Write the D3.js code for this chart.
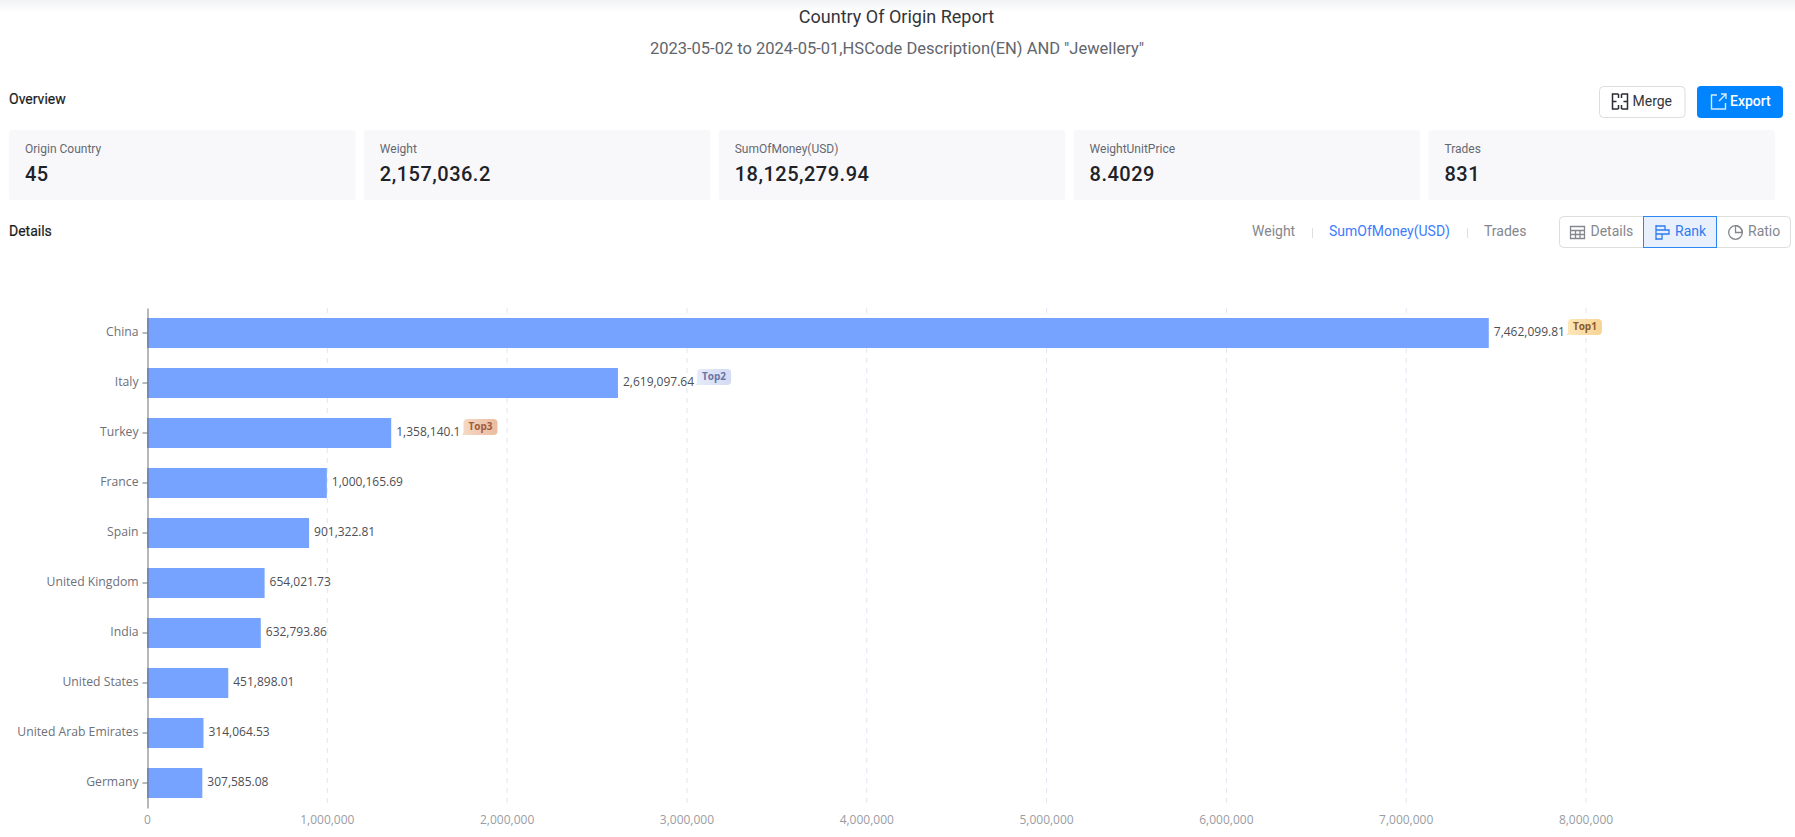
<!DOCTYPE html>
<html>
<head>
<meta charset="utf-8">
<title>Country Of Origin Report</title>
<script src="https://cdn.jsdelivr.net/npm/d3@7"></script>
<style>
  html, body { margin: 0; padding: 0; background: #fff; overflow: hidden; }
  svg { display: block; }
  text { font-family: Roboto, sans-serif; }
  .chart text { font-family: "Open Sans", "Noto Sans", sans-serif; }
</style>
</head>
<body>
<div id="page"></div>
<script>
// Overview cards
var cardLabels = ["Origin Country", "Weight", "SumOfMoney(USD)", "WeightUnitPrice", "Trades"];
var cardValues = ["45", "2,157,036.2", "18,125,279.94", "8.4029", "831"];

// Chart data
var countries = ["China", "Italy", "Turkey", "France", "Spain", "United Kingdom", "India", "United States", "United Arab Emirates", "Germany"];
var money = [7462099.81, 2619097.64, 1358140.1, 1000165.69, 901322.81, 654021.73, 632793.86, 451898.01, 314064.53, 307585.08];
var xTicks = [0, 1000000, 2000000, 3000000, 4000000, 5000000, 6000000, 7000000, 8000000];
var badgeLabels = ["Top1", "Top2", "Top3"];
var badgeFills = [["#fde6b8", "#f6d394"], ["#e6ebfa", "#d3daf2"], ["#f5d8c4", "#eabc9f"]];
var badgeInks = ["#8a5a2c", "#6a74a6", "#a25a3c"];

var width = 1795, height = 837;
var svg = d3.select("#page").append("svg").attr("width", width).attr("height", height);
var defs = svg.append("defs");

// soft shadow under the page header
var shade = defs.append("linearGradient").attr("id", "topShade").attr("x1", 0).attr("x2", 0).attr("y1", 0).attr("y2", 1);
shade.append("stop").attr("offset", 0).attr("stop-color", "#f1f2f5");
shade.append("stop").attr("offset", 1).attr("stop-color", "#ffffff");
svg.append("rect").attr("width", width).attr("height", 12).attr("fill", "url(#topShade)");

// titles
svg.append("text").attr("x", 896.5).attr("y", 17).attr("dy", "0.35em").attr("text-anchor", "middle")
  .attr("font-size", 18).attr("fill", "#33353b").text("Country Of Origin Report");
svg.append("text").attr("x", 897).attr("y", 48).attr("dy", "0.35em").attr("text-anchor", "middle")
  .attr("font-size", 16.5).attr("fill", "#62656c").text('2023-05-02 to 2024-05-01,HSCode Description(EN) AND "Jewellery"');

svg.append("text").attr("x", 9).attr("y", 99).attr("dy", "0.35em")
  .attr("font-size", 14).attr("fill", "#1a1c20").attr("stroke", "#1a1c20").attr("stroke-width", 0.2).text("Overview");
svg.append("text").attr("x", 9).attr("y", 231).attr("dy", "0.35em")
  .attr("font-size", 14).attr("fill", "#1a1c20").attr("stroke", "#1a1c20").attr("stroke-width", 0.2).text("Details");

// buttons
var merge = svg.append("g");
merge.append("rect").attr("x", 1599.5).attr("y", 86.5).attr("width", 85.5).attr("height", 31).attr("rx", 4)
  .attr("fill", "#fff").attr("stroke", "#dcdde1");
merge.append("path").attr("d", "M1618.5 94h-6v15h6M1621.5 94h6v15h-6M1612.5 101.5h4M1623.5 101.5h4M1618.5 94v4M1618.5 105v4M1621.5 94v4M1621.5 105v4")
  .attr("fill", "none").attr("stroke", "#2b2d33").attr("stroke-width", 1.5);
merge.append("text").attr("x", 1632.5).attr("y", 101.5).attr("dy", "0.35em").attr("font-size", 14).attr("fill", "#33353b").text("Merge");

var exportBtn = svg.append("g");
exportBtn.append("rect").attr("x", 1697).attr("y", 86).attr("width", 86).attr("height", 32).attr("rx", 4).attr("fill", "#0084ff");
exportBtn.append("path").attr("d", "M1717 95h-5.5v14h14v-6M1719 101l7-7M1721 94h5v5")
  .attr("fill", "none").attr("stroke", "#d6ebff").attr("stroke-width", 1.4);
exportBtn.append("text").attr("x", 1730).attr("y", 101.5).attr("dy", "0.35em").attr("font-size", 14).attr("font-weight", 500).attr("fill", "#fff").text("Export");

// overview cards
var cardX = d3.scaleBand().domain(cardLabels).range([9, 1775]).paddingInner(0.0233);
var cards = svg.selectAll(".card").data(cardLabels).enter().append("g").attr("class", "card")
  .attr("transform", function(d) { return "translate(" + cardX(d) + ",130)"; });
cards.append("rect").attr("width", cardX.bandwidth()).attr("height", 70).attr("rx", 3).attr("fill", "#f8f8fb");
cards.append("text").attr("x", 16).attr("y", 19).attr("dy", "0.35em").attr("font-size", 12).attr("fill", "#666870")
  .text(function(d) { return d; });
cards.append("text").attr("x", 16).attr("y", 44).attr("dy", "0.35em").attr("font-size", 20).attr("font-weight", 500).attr("letter-spacing", 0.5).attr("fill", "#202228")
  .text(function(d, i) { return cardValues[i]; });

// metric tabs
var tabs = svg.append("g").attr("font-size", 14);
tabs.append("text").attr("x", 1252).attr("y", 231).attr("dy", "0.35em").attr("fill", "#85878d").text("Weight");
tabs.append("text").attr("x", 1329).attr("y", 231).attr("dy", "0.35em").attr("fill", "#3f7bff").text("SumOfMoney(USD)");
tabs.append("text").attr("x", 1484).attr("y", 231).attr("dy", "0.35em").attr("fill", "#85878d").text("Trades");
tabs.append("path").attr("d", "M1312.5 228v10M1467.5 228v10").attr("stroke", "#dedfe3");

// view switch
var seg = svg.append("g");
seg.append("rect").attr("x", 1559.5).attr("y", 216.5).attr("width", 231).attr("height", 31).attr("rx", 4).attr("fill", "#fff").attr("stroke", "#dcdde1");
seg.append("rect").attr("x", 1643.5).attr("y", 216.5).attr("width", 73).attr("height", 31).attr("fill", "#e8f0fe").attr("stroke", "#2e86f5");
seg.append("path").attr("d", "M1570.5 226.5h14v12h-14zM1570.5 230.5h14M1570.5 234.5h14M1575.5 230.5v8M1580 230.5v8")
  .attr("fill", "none").attr("stroke", "#85878d").attr("stroke-width", 1.3);
seg.append("path").attr("d", "M1656 225v15M1656 226h9v4h-9zM1656 230h13v4h-13zM1656 234h6v5h-6z")
  .attr("fill", "none").attr("stroke", "#2e7bf0").attr("stroke-width", 1.3);
seg.append("circle").attr("cx", 1735.5).attr("cy", 232.5).attr("r", 6.8).attr("fill", "none").attr("stroke", "#85878d").attr("stroke-width", 1.3);
seg.append("path").attr("d", "M1735.5 232.5v-6.8a6.8 6.8 0 0 1 6.8 6.8z").attr("fill", "none").attr("stroke", "#85878d").attr("stroke-width", 1.3);
seg.append("text").attr("x", 1590.5).attr("y", 231).attr("dy", "0.35em").attr("font-size", 14).attr("fill", "#85878d").text("Details");
seg.append("text").attr("x", 1675).attr("y", 231).attr("dy", "0.35em").attr("font-size", 14).attr("fill", "#2e7bf0").text("Rank");
seg.append("text").attr("x", 1748).attr("y", 231).attr("dy", "0.35em").attr("font-size", 14).attr("fill", "#85878d").text("Ratio");

// chart scales
var x = d3.scaleLinear().domain([0, 8000000]).range([147, 1585.5]);
var y = d3.scaleBand().domain(countries).range([308, 808]).paddingInner(0.4).paddingOuter(0.2);
var chart = svg.append("g").attr("class", "chart");

// dashed grid lines, one per x tick except zero
chart.selectAll(".grid").data(xTicks.slice(1)).enter().append("line").attr("class", "grid")
  .attr("x1", function(d) { return x(d) + 0.5; }).attr("x2", function(d) { return x(d) + 0.5; })
  .attr("y1", 308).attr("y2", 808)
  .attr("stroke", "#e2e4f2").attr("stroke-dasharray", "5,5");

// bars
chart.selectAll(".bar").data(countries).enter().append("rect").attr("class", "bar")
  .attr("x", x(0)).attr("y", function(d) { return y(d); })
  .attr("width", function(d, i) { return x(money[i]) - x(0); })
  .attr("height", y.bandwidth())
  .attr("fill", "#75a3ff");

// x axis: labels only
var xAxis = chart.append("g").attr("transform", "translate(0,808)")
  .call(d3.axisBottom(x).tickValues(xTicks).tickFormat(d3.format(",")).tickSize(0).tickPadding(7));
xAxis.select(".domain").remove();
xAxis.selectAll("text").attr("font-size", 12).attr("fill", "#9a9ca3").attr("font-family", '"Open Sans", sans-serif');

// y axis
var yAxis = chart.append("g").attr("transform", "translate(147.5,0)")
  .call(d3.axisLeft(y).tickSizeInner(5).tickSizeOuter(0).tickPadding(4));
yAxis.select(".domain").attr("stroke", "#6e7079");
yAxis.selectAll("line").attr("stroke", "#6e7079");
yAxis.selectAll("text").attr("font-size", 12.2).attr("fill", "#6e7079").attr("dy", "0.24em").attr("font-family", '"Open Sans", sans-serif');

// value labels
var labels = chart.selectAll(".val").data(countries).enter().append("text").attr("class", "val")
  .attr("x", function(d, i) { return x(money[i]) + 5; })
  .attr("y", function(d) { return y(d) + y.bandwidth() / 2 - 1; })
  .attr("dy", "0.35em").attr("font-size", 12).attr("fill", "#4d4f55")
  .text(function(d, i) { return d3.format(",")(money[i]); });

// Top1..3 badges sit right after their value label, with a small foot at the lower left
badgeLabels.forEach(function(b, i) {
  var grad = defs.append("linearGradient").attr("id", "badge" + i);
  grad.append("stop").attr("offset", 0).attr("stop-color", badgeFills[i][0]);
  grad.append("stop").attr("offset", 1).attr("stop-color", badgeFills[i][1]);
  var labelEnd = x(money[i]) + 5 + labels.nodes()[i].getComputedTextLength();
  var g = chart.append("g").attr("transform", "translate(" + (labelEnd + 3) + "," + (y(countries[i]) + 1) + ")");
  g.append("path").attr("d", "M-1.5 16L2 11v5z").attr("fill", badgeFills[i][0]);
  g.append("rect").attr("width", 34).attr("height", 16).attr("rx", 4).attr("fill", "url(#badge" + i + ")");
  g.append("text").attr("x", 17).attr("y", 7.5).attr("dy", "0.35em").attr("text-anchor", "middle")
    .attr("font-size", 10).attr("font-weight", 700).attr("fill", badgeInks[i]).text(b);
});
</script>
</body>
</html>
